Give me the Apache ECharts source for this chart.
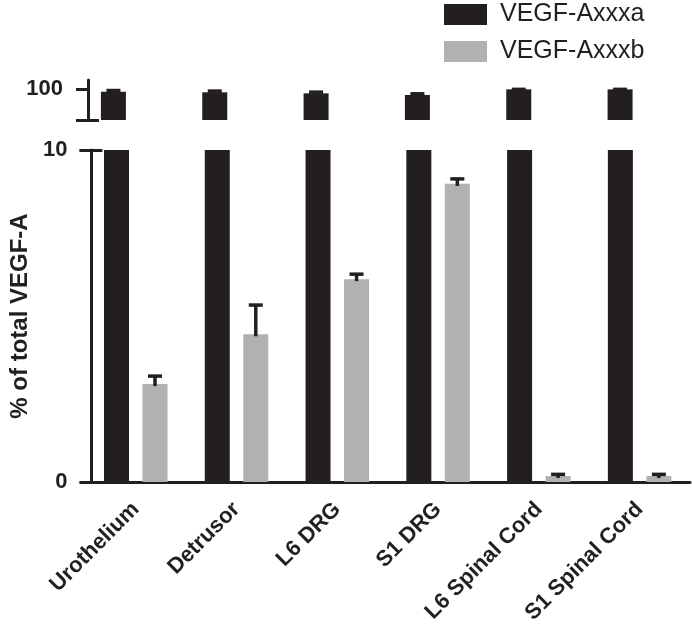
<!DOCTYPE html>
<html>
<head>
<meta charset="utf-8">
<script src="https://cdn.jsdelivr.net/npm/echarts@6/dist/echarts.min.js"></script>
<style>html,body{margin:0;padding:0;background:#fff}#c{width:692px;height:634px}</style>
</head>
<body>
<div id="c"></div>
<script>
// ---- data ----
const categories = ['Urothelium', 'Detrusor', 'L6 DRG', 'S1 DRG', 'L6 Spinal Cord', 'S1 Spinal Cord'];
const axxxa = [95.9, 95.0, 93.3, 90.6, 99.8, 99.8];
const axxxaErr = [2.0, 2.0, 2.0, 2.0, 0, 0];
const axxxb = [2.95, 4.45, 6.11, 8.98, 0.18, 0.18];
const axxxbErr = [0.24, 0.88, 0.15, 0.15, 0.05, 0.05];
const upperTicks = [100];
const lowerTicks = [0, 10];

// ---- style ----
const INK = '#231f20';
const GREY = '#b1b1b1';
const BAR_W = 25;
const GAP = 13.5;
const FONT = '"Liberation Sans", Arial, sans-serif';

function errSeries(name, vals, errs, xi, yi, side) {
  return {
    type: 'custom', name: name + ' err', xAxisIndex: xi, yAxisIndex: yi, silent: true, z: 5,
    data: vals.map((v, i) => [i, v, errs[i]]),
    renderItem: function (params, api) {
      const i = api.value(0), v = api.value(1), e = api.value(2);
      const off = side * (BAR_W + GAP) / 2;
      const p0 = api.coord([i, v]);
      const p1 = api.coord([i, v + e]);
      const x = p0[0] + off;
      const st = { stroke: INK, lineWidth: 3.5 };
      return {
        type: 'group', children: [
          { type: 'line', shape: { x1: x, y1: p0[1] + 2, x2: x, y2: p1[1] }, style: st },
          { type: 'line', shape: { x1: x - 7, y1: p1[1], x2: x + 7, y2: p1[1] }, style: st }
        ]
      };
    }
  };
}

const chart = echarts.init(document.getElementById('c'));
const axisLineStyle = { color: INK, width: 3 };
chart.setOption({
  animation: false,
  textStyle: { fontFamily: FONT },
  legend: {
    orient: 'vertical', left: 439, top: -3, itemWidth: 43, itemHeight: 21, itemGap: 12,
    icon: 'rect', data: ['VEGF-Axxxa', 'VEGF-Axxxb'],
    textStyle: { fontSize: 25, color: INK, fontFamily: FONT, padding: [0, 0, 0, 8] }
  },
  grid: [
    { left: 82, right: 2, top: 80, height: 40 },
    { left: 82, right: 2, top: 150, height: 332 }
  ],
  xAxis: [
    { type: 'category', gridIndex: 0, data: categories, show: false },
    {
      type: 'category', gridIndex: 1, data: categories,
      axisLine: { lineStyle: axisLineStyle },
      axisTick: { alignWithLabel: true, length: 12, lineStyle: { color: INK, width: 3 } },
      axisLabel: { rotate: 45, fontSize: 22, fontWeight: 'bold', color: INK, margin: 24, interval: 0, fontFamily: FONT }
    }
  ],
  yAxis: [
    {
      type: 'value', gridIndex: 0, position: 'left', min: 50, max: 115, offset: -6,
      axisLine: { show: true, lineStyle: axisLineStyle },
      axisTick: { show: true, length: 12, customValues: [50, 100], lineStyle: { color: INK, width: 3 } },
      axisLabel: { customValues: upperTicks, fontSize: 22, fontWeight: 'bold', color: INK, margin: 25, fontFamily: FONT },
      splitLine: { show: false }
    },
    {
      type: 'value', gridIndex: 0, position: 'left', min: 50, max: 115, offset: -6,
      axisLine: { show: false },
      axisTick: { show: true, inside: true, length: 11, customValues: [50], lineStyle: { color: INK, width: 3 } },
      axisLabel: { show: false }, splitLine: { show: false }
    },
    {
      type: 'value', gridIndex: 1, position: 'left', min: 0, max: 10, offset: -6,
      name: '% of total VEGF-A', nameLocation: 'middle', nameGap: 48,
      nameTextStyle: { fontSize: 24, fontWeight: 'bold', color: INK, fontFamily: FONT },
      axisLine: { show: true, lineStyle: axisLineStyle },
      axisTick: { show: true, length: 12, customValues: lowerTicks, lineStyle: { color: INK, width: 3 } },
      axisLabel: { customValues: lowerTicks, fontSize: 22, fontWeight: 'bold', color: INK, margin: 24, fontFamily: FONT },
      splitLine: { show: false }
    },
    {
      type: 'value', gridIndex: 1, position: 'left', min: 0, max: 10, offset: -6,
      axisLine: { show: false },
      axisTick: { show: true, inside: true, length: 11, customValues: [10], lineStyle: { color: INK, width: 3 } },
      axisLabel: { show: false }, splitLine: { show: false }
    }
  ],
  series: [
    { type: 'bar', name: 'VEGF-Axxxa', xAxisIndex: 0, yAxisIndex: 0, data: axxxa, barWidth: BAR_W, barGap: (GAP / BAR_W * 100) + '%', itemStyle: { color: INK }, clip: true },
    { type: 'bar', name: 'VEGF-Axxxb', xAxisIndex: 0, yAxisIndex: 0, data: axxxb.map(() => '-'), barWidth: BAR_W, itemStyle: { color: GREY }, clip: true },
    { type: 'bar', name: 'VEGF-Axxxa', xAxisIndex: 1, yAxisIndex: 2, data: axxxa, barWidth: BAR_W, barGap: (GAP / BAR_W * 100) + '%', itemStyle: { color: INK }, clip: true },
    { type: 'bar', name: 'VEGF-Axxxb', xAxisIndex: 1, yAxisIndex: 2, data: axxxb, barWidth: BAR_W, itemStyle: { color: GREY }, clip: true },
    errSeries('VEGF-Axxxa', axxxa, axxxaErr, 0, 0, -1),
    errSeries('VEGF-Axxxb', axxxb, axxxbErr, 1, 2, 1)
  ]
});
</script>
</body>
</html>
